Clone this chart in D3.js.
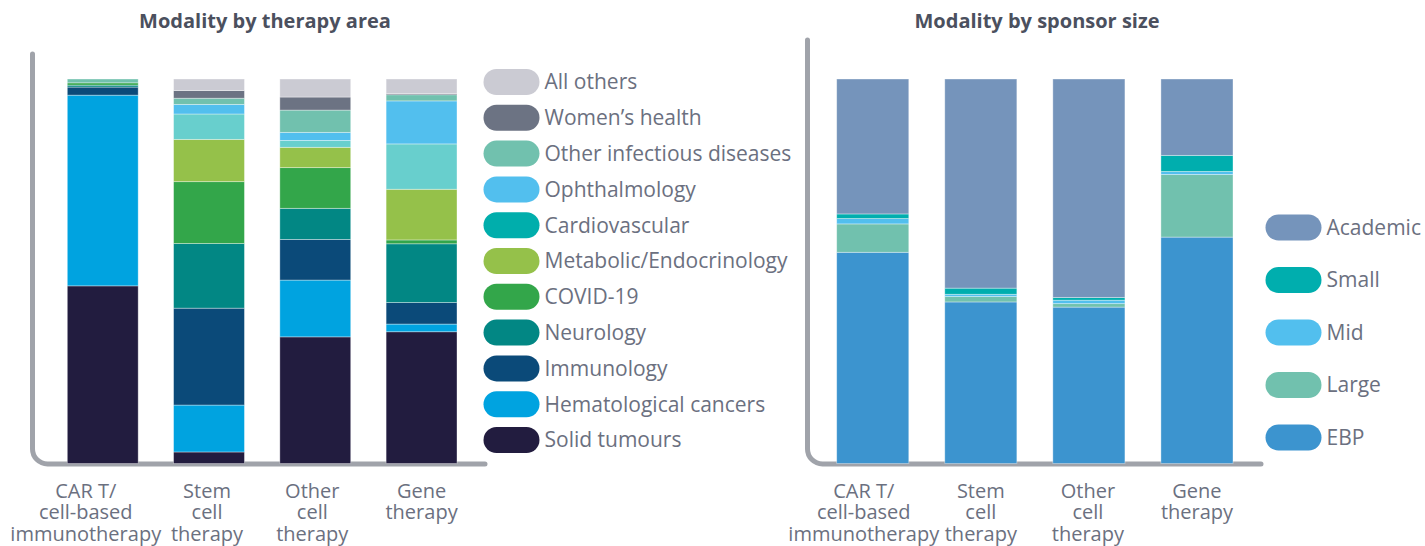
<!DOCTYPE html>
<html>
<head>
<meta charset="utf-8">
<script src="https://cdn.jsdelivr.net/npm/d3@7"></script>
<style>
  body { margin: 0; background: #fff; }
  svg { display: block; font-family: "Open Sans", "Noto Sans", sans-serif; }
</style>
</head>
<body>
<svg id="chart" width="1425" height="546"></svg>
<script>
// categories shared by both panels
var categories = ["CAR T", "Stem", "Other", "Gene"];
var categoryLines = [
  ["CAR T/", "cell-based", "immunotherapy"],
  ["Stem", "cell", "therapy"],
  ["Other", "cell", "therapy"],
  ["Gene", "therapy"]
];

// therapy area series, bottom to top (percent of each bar)
var areaSeries = ["Solid tumours", "Hematological cancers", "Immunology", "Neurology", "COVID-19",
  "Metabolic/Endocrinology", "Cardiovascular", "Ophthalmology", "Other infectious diseases",
  "Women\u2019s health", "All others"];
var solidTumours   = [46.2, 3.0, 33.0, 34.3];
var hematological  = [49.6, 12.2, 14.8, 2.0];
var immunology     = [2.1, 25.2, 10.6, 5.6];
var neurology      = [0.5, 16.8, 8.1, 15.3];
var covid19        = [0.6, 16.1, 10.6, 1.0];
var metabolic      = [0, 11.0, 5.3, 13.2];
var cardiovascular = [0, 6.6, 1.8, 11.8];
var ophthalmology  = [0, 2.5, 2.1, 11.2];
var otherInfect    = [1.0, 1.6, 5.8, 1.6];
var womensHealth   = [0, 2.0, 3.4, 0.3];
var allOthers      = [0, 3.0, 4.7, 3.8];
var areaValues = [solidTumours, hematological, immunology, neurology, covid19, metabolic,
  cardiovascular, ophthalmology, otherInfect, womensHealth, allOthers];
var areaColors = ["#221c3f", "#00a3e0", "#0b4a79", "#028784", "#33a64a", "#95c14a",
  "#68cfcd", "#52bfee", "#71c1ae", "#6c7383", "#cbcbd3"];
var areaLegendColors = ["#221c3f", "#00a3e0", "#0b4a79", "#028784", "#33a64a", "#95c14a",
  "#00aeac", "#52bfee", "#71c1ae", "#6c7383", "#cbcbd3"];

// sponsor size series, bottom to top
var sizeSeries = ["EBP", "Large", "Mid", "Small", "Academic"];
var ebp      = [55.1, 42.1, 40.8, 59.0];
var large    = [7.4, 1.4, 0.9, 16.3];
var mid      = [1.4, 0.6, 0.9, 0.8];
var small    = [1.2, 1.6, 0.7, 4.2];
var academic = [35.2, 54.5, 57.0, 19.9];
var sizeValues = [ebp, large, mid, small, academic];
var sizeColors = ["#3c94cf", "#71c1ae", "#52bfee", "#00aeae", "#7594bb"];

var svg = d3.select("#chart");
var labelColor = "#6b7080";

function panel(opts) {
  var rows = categories.map(function(c, i) {
    var r = {category: c};
    opts.series.forEach(function(s, j) { r[s] = opts.values[j][i]; });
    return r;
  });
  var stacked = d3.stack().keys(opts.series).offset(d3.stackOffsetExpand)(rows);

  var x = d3.scaleBand().domain(categories).range(opts.xRange).paddingInner(0.333).paddingOuter(0);
  var y = d3.scaleLinear().domain([0, 1]).range([463.5, 79]);

  var g = svg.append("g");

  // frame: rounded left/bottom axis
  var x0 = opts.frameX, yb = 464, r = 15;
  g.append("path")
    .attr("d", "M" + x0 + "," + opts.frameTop + "V" + (yb - r) +
      "A" + r + "," + r + " 0 0 0 " + (x0 + r) + "," + yb + "H" + opts.frameEnd)
    .attr("fill", "none")
    .attr("stroke", "#a0a3aa")
    .attr("stroke-width", 5)
    .attr("stroke-linecap", "round");

  g.selectAll("g.layer")
    .data(stacked)
    .join("g")
      .attr("class", "layer")
      .attr("fill", function(d, i) { return opts.colors[i]; })
    .selectAll("rect")
    .data(function(d) { return d; })
    .join("rect")
      .attr("x", function(d) { return x(d.data.category); })
      .attr("y", function(d) { return y(d[1]); })
      .attr("width", x.bandwidth())
      .attr("height", function(d) { return Math.max(0, y(d[0]) - y(d[1])); })
      .attr("stroke", "rgba(255,255,255,0.45)")
      .attr("stroke-width", 0.8);

  // title
  g.append("text")
    .attr("x", opts.titleX)
    .attr("y", 28)
    .attr("text-anchor", "middle")
    .attr("font-size", 20)
    .attr("font-weight", "bold")
    .attr("fill", "#4b505e")
    .text(opts.title);

  // category labels
  var lab = g.selectAll("text.cat")
    .data(categoryLines)
    .join("text")
      .attr("class", "cat")
      .attr("text-anchor", "middle")
      .attr("font-size", 20)
      .attr("fill", labelColor)
      .attr("transform", function(d, i) {
        return "translate(" + (x(categories[i]) + x.bandwidth() / 2 + opts.labelShift[i]) + ",498)";
      });
  lab.selectAll("tspan")
    .data(function(d) { return d; })
    .join("tspan")
      .attr("x", 0)
      .attr("y", function(d, i) { return i * 21.3; })
      .text(function(d) { return d; });

  // legend, top to bottom
  var legendItems = opts.series.map(function(s, i) {
    return {name: s, color: opts.legendColors[i]};
  }).reverse();
  var leg = g.selectAll("g.leg")
    .data(legendItems)
    .join("g")
      .attr("class", "leg")
      .attr("transform", function(d, i) {
        return "translate(" + opts.legendX + "," + (opts.legendY + i * opts.legendStep) + ")";
      });
  leg.append("rect")
    .attr("x", 0)
    .attr("y", -13)
    .attr("width", 56)
    .attr("height", 26)
    .attr("rx", 13)
    .attr("fill", function(d) { return d.color; });
  leg.append("text")
    .attr("x", 61)
    .attr("dy", "0.35em")
    .attr("font-size", 21)
    .attr("fill", labelColor)
    .text(function(d) { return d.name; });
}

panel({
  series: areaSeries,
  values: areaValues,
  colors: areaColors,
  legendColors: areaLegendColors,
  xRange: [67.3, 457],
  frameX: 32.5,
  frameTop: 54,
  frameEnd: 485,
  title: "Modality by therapy area",
  titleX: 265,
  labelShift: [-17, -2, -3, 0],
  legendX: 483.5,
  legendY: 82,
  legendStep: 35.8
});

panel({
  series: sizeSeries,
  values: sizeValues,
  colors: sizeColors,
  legendColors: sizeColors,
  xRange: [836.7, 1233],
  frameX: 807.5,
  frameTop: 40,
  frameEnd: 1261,
  title: "Modality by sponsor size",
  titleX: 1037,
  labelShift: [-9, 0, -1, 0],
  legendX: 1265.5,
  legendY: 227.5,
  legendStep: 52.5
});
</script>
</body>
</html>
